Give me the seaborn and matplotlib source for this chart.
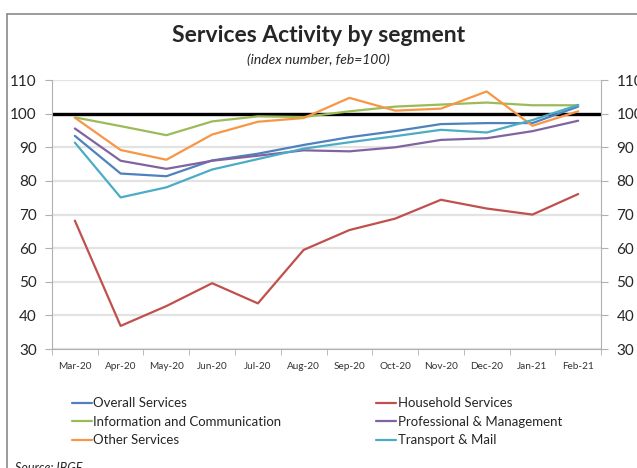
import numpy as np
import pandas as pd
import matplotlib
matplotlib.use('Agg')
import matplotlib.pyplot as plt
import seaborn as sns

# -----------------------

months = ['Mar-20', 'Apr-20', 'May-20', 'Jun-20', 'Jul-20', 'Aug-20',
	'Sep-20', 'Oct-20', 'Nov-20', 'Dec-20', 'Jan-21', 'Feb-21']

overall = [93.4, 82.2, 81.4, 86.1, 88.1, 90.7, 93.0, 94.8, 96.9, 97.2, 97.2, 102.1]
household = [68.2, 36.9, 42.8, 49.6, 43.6, 59.5, 65.4, 68.8, 74.4, 71.8, 70.0, 76.1]
info = [98.9, 96.3, 93.6, 97.7, 99.2, 99.0, 100.7, 102.1, 102.7, 103.3, 102.5, 102.5]
professional = [95.6, 86.0, 83.6, 86.0, 87.5, 89.1, 88.8, 90.0, 92.2, 92.7, 94.8, 97.9]
other = [98.8, 89.2, 86.3, 93.8, 97.6, 98.7, 104.7, 100.9, 101.5, 106.6, 96.4, 100.7]
transport = [91.4, 75.1, 78.1, 83.4, 86.5, 89.6, 91.5, 93.3, 95.2, 94.4, 98.1, 102.6]

series = {
	'Overall Services': overall,
	'Household Services': household,
	'Information and Communication': info,
	'Professional & Management': professional,
	'Other Services': other,
	'Transport & Mail': transport,
}

palette = {
	'Overall Services': '#4F81BD',
	'Household Services': '#C0504D',
	'Information and Communication': '#9BBB59',
	'Professional & Management': '#8064A2',
	'Other Services': '#F79646',
	'Transport & Mail': '#4BACC6',
}

# legend fills column by column, so this gives the row layout of the original
order = ['Overall Services', 'Information and Communication', 'Other Services',
	'Household Services', 'Professional & Management', 'Transport & Mail']

df = pd.concat([pd.DataFrame({'month': months, 'value': v, 'segment': k})
	for k, v in series.items()], ignore_index=True)

# -----------------------

sns.set_style('white')
plt.rcParams['font.family'] = ['Lato', 'DejaVu Sans']

fig = plt.figure(figsize=(6.37, 4.68), dpi=100)
ax = fig.add_axes([0.0816, 0.254, 0.862, 0.575])

sns.lineplot(data=df, x='month', y='value', hue='segment', hue_order=order,
	palette=palette, linewidth=1.6, ax=ax, legend=True, sort=False)

ax.axhline(100, color='black', lw=2.4, zorder=1.5)

ax.set_ylim(30, 110)
ax.set_xlim(-0.5, len(months) - 0.5)
ax.set_yticks(range(30, 111, 10))
ax.yaxis.grid(True, color='#e3e3e3', lw=1.6)
ax.set_axisbelow(True)
ax.set(xlabel=None, ylabel=None)

ax.set_xticks(range(len(months)))
ax.set_xticklabels(months, fontsize=7.2, color='#333333')
ax.set_xticks(np.arange(-0.5, len(months), 1), minor=True)
ax.tick_params(axis='x', which='major', length=0, pad=9)
ax.tick_params(axis='x', which='minor', length=4, color='#b0b0b0',
	direction='out', bottom=True)
ax.tick_params(axis='y', labelsize=11, length=5, color='#b0b0b0', pad=6, left=True)

for s in ['top', 'right']:
	ax.spines[s].set_visible(False)
for s in ['left', 'bottom']:
	ax.spines[s].set_color('#b0b0b0')

ax2 = ax.twinx()
ax2.set_ylim(30, 110)
ax2.set_yticks(range(30, 111, 10))
ax2.tick_params(axis='y', labelsize=11, length=5, color='#b0b0b0', pad=6, right=True)
for s in ['top', 'left', 'bottom']:
	ax2.spines[s].set_visible(False)
ax2.spines['right'].set_color('#b0b0b0')

handles, labels = ax.get_legend_handles_labels()
ax.legend().remove()
fig.legend(handles, labels, ncol=2, loc='upper left', bbox_to_anchor=(0.105, 0.162),
	frameon=False, fontsize=9.5, handlelength=1.5, handletextpad=0.1,
	columnspacing=7.2, labelspacing=0.48, borderaxespad=0)

fig.text(0.5, 0.925, 'Services Activity by segment', ha='center', va='center',
	fontsize=16.5, fontweight='bold')
fig.text(0.5, 0.872, '(index number, feb=100)', ha='center', va='center',
	fontsize=10, style='italic')
fig.text(0.024, 0.0, 'Source: IBGE', ha='left', va='center', fontsize=9, style='italic')

# outer frame of the original screenshot (left and top edges only)
fig.add_artist(plt.Line2D([0.011, 0.011], [0, 0.97], color='#8a8a8a', lw=1.2,
	transform=fig.transFigure))
fig.add_artist(plt.Line2D([0.011, 1.0], [0.97, 0.97], color='#8a8a8a', lw=1.2,
	transform=fig.transFigure))

plt.savefig('out.png', dpi=100)
